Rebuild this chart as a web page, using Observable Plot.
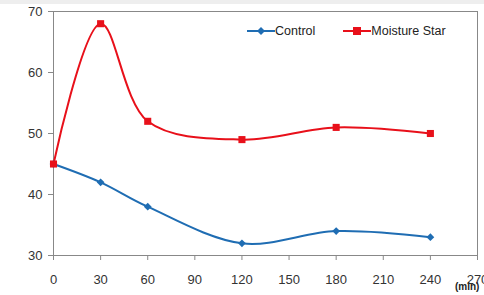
<!DOCTYPE html>
<html><head><meta charset="utf-8">
<script src="https://cdn.jsdelivr.net/npm/d3@7"></script>
<script src="https://cdn.jsdelivr.net/npm/@observablehq/plot@0.6"></script>
<style>
body{margin:0;background:#fff;font-family:"Liberation Sans",Arial,sans-serif;}
#wrap{position:relative;width:484px;height:295px;overflow:hidden;}
#topbar{position:absolute;left:0;top:0;width:484px;height:4px;background:#eeeeee;}
#legend{position:absolute;left:247px;top:24px;font-size:12.5px;color:#222;display:flex;gap:0;}
#legend .it{display:flex;align-items:center;}
#unit{position:absolute;left:455px;top:281px;font-size:10px;font-weight:bold;color:#222;}
</style></head><body>
<div id="wrap"><div id="topbar"></div></div>
<script>
const times = [0, 30, 60, 120, 180, 240];
const control = [45, 42, 38, 32, 34, 33];
const moisture = [45, 68, 52, 49, 51, 50];
const seriesNames = ["Control", "Moisture Star"];
const seriesColors = ["#1f6db3", "#e8101a"];
const xTicks = [0, 30, 60, 90, 120, 150, 180, 210, 240, 270];
const yTicks = [30, 40, 50, 60, 70];

const ctrl = times.map((t, i) => ({t, v: control[i]}));
const moist = times.map((t, i) => ({t, v: moisture[i]}));

const chart = Plot.plot({
  width: 484, height: 295,
  marginLeft: 53, marginRight: 7, marginTop: 11, marginBottom: 40,
  style: {fontFamily: "Liberation Sans, Arial, sans-serif", fontSize: "13px", color: "#333", background: "transparent"},
  x: {domain: [0, 270], label: null},
  y: {domain: [30, 70], label: null},
  marks: [
    Plot.frame({stroke: "#888", strokeWidth: 1}),
    Plot.axisX({ticks: xTicks, tickSize: 5, tickPadding: 14, stroke: "#888", color: "#333", label: null, tickFormat: d => d}),
    Plot.axisY({ticks: yTicks, tickSize: 5, tickPadding: 6, stroke: "#888", color: "#333", label: null}),
    Plot.line(ctrl, {x: "t", y: "v", stroke: seriesColors[0], strokeWidth: 2, curve: "catmull-rom"}),
    Plot.line(moist, {x: "t", y: "v", stroke: seriesColors[1], strokeWidth: 2, curve: "catmull-rom"}),
    Plot.dot(ctrl, {x: "t", y: "v", fill: seriesColors[0], symbol: "diamond2", r: 3.5}),
    Plot.dot(moist, {x: "t", y: "v", fill: seriesColors[1], symbol: "square2", r: 4.5})
  ]
});
const wrap = document.getElementById("wrap");
chart.style.position = "absolute"; chart.style.left = "0"; chart.style.top = "0";
wrap.appendChild(chart);

const legend = document.createElement("div");
legend.id = "legend";
const sym = ["M14,2 L18,6 L14,10 L10,6 Z", "M10,2 H18 V10 H10 Z"];
seriesNames.forEach((n, i) => {
  const it = document.createElement("div");
  it.className = "it";
  it.style.marginRight = i === 0 ? "28px" : "0";
  it.innerHTML = `<svg width="28" height="12"><line x1="0" y1="6" x2="28" y2="6" stroke="${seriesColors[i]}" stroke-width="2"/><path d="${sym[i]}" fill="${seriesColors[i]}"/></svg><span>${n}</span>`;
  legend.appendChild(it);
});
wrap.appendChild(legend);
const unit = document.createElement("div");
unit.id = "unit"; unit.textContent = "(min)";
wrap.appendChild(unit);
</script>
</body></html>
